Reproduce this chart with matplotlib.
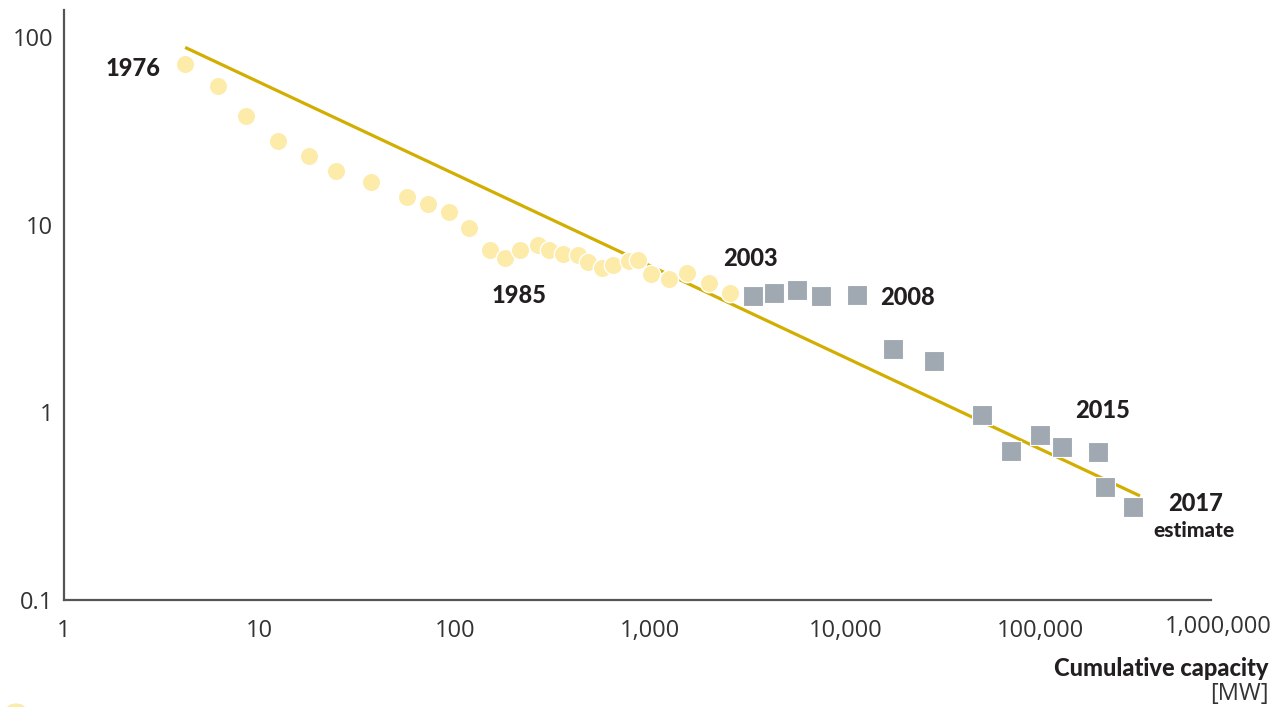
import numpy as np
import matplotlib
matplotlib.use('Agg')
import matplotlib.pyplot as plt
from matplotlib.ticker import FixedLocator, NullLocator

# Module price vs cumulative installed capacity (log-log)
circle_capacity = [4.17, 6.15, 8.55, 12.4, 18.0, 24.7, 37.3, 56.9, 73.1, 93.1,
                   119, 152, 181, 216, 266, 305, 358, 427, 484, 571,
                   649, 784, 872, 1013, 1257, 1554, 2007, 2571]
circle_price = [72.0, 55.2, 38.2, 28.1, 23.4, 19.3, 17.0, 14.1, 13.0, 11.7,
                9.59, 7.32, 6.65, 7.35, 7.80, 7.32, 7.03, 6.94, 6.35, 5.87,
                6.11, 6.42, 6.47, 5.45, 5.12, 5.56, 4.90, 4.31]

square_capacity = [3360, 4335, 5645, 7490, 11460, 17630, 28500, 50000,
                   70630, 99770, 129300, 196300, 213900, 296600]
square_price = [4.19, 4.35, 4.50, 4.18, 4.24, 2.17, 1.89, 0.975,
                0.621, 0.757, 0.658, 0.616, 0.399, 0.314]

trend_capacity = [4.17, 323000]
trend_price = [88.4, 0.359]

x_ticks = [1, 10, 100, 1000, 10000, 100000]
x_tick_labels = ['1', '10', '100', '1,000', '10,000', '100,000']
y_ticks = [0.1, 1, 10, 100]
y_tick_labels = ['0.1', '1', '10', '100']

year_labels = [('1976', 2.26, 67.9), ('1985', 214, 4.23), ('2003', 3255, 6.59),
               ('2008', 20720, 4.08), ('2015', 208900, 1.03), ('2017', 625300, 0.329)]

yellow = '#FDEBAA'
grey = '#A0A9B2'
gold = '#D2AE00'
ink = '#231F20'
tick_color = '#333333'

fig = plt.figure(figsize=(12.81, 7.07), dpi=100)
ax = fig.add_axes([0.05, 0.1513, 0.8954, 0.8346])

ax.set_xscale('log')
ax.set_yscale('log')
ax.set_xlim(1, 10 ** 5.873)
ax.set_ylim(0.1, 140)

ax.plot(trend_capacity, trend_price, color=gold, lw=2.3, zorder=2,
        solid_capstyle='butt')
ax.scatter(circle_capacity, circle_price, s=175, color=yellow,
           edgecolors='white', linewidths=1.0, zorder=3)
ax.scatter(square_capacity, square_price, s=210, marker='s', color=grey,
           edgecolors='white', linewidths=0.8, zorder=4)

for text, x, y in year_labels:
    ax.text(x, y, text, fontsize=17, fontweight='black', family='Lato',
            color=ink, ha='center', va='center')
ax.text(611000, 0.236, 'estimate', fontsize=15, fontweight='black',
        family='Lato', color=ink, ha='center', va='center')

# axes styling
for side in ['top', 'right']:
    ax.spines[side].set_visible(False)
for side in ['left', 'bottom']:
    ax.spines[side].set_color('#555555')
    ax.spines[side].set_linewidth(1.6)

ax.xaxis.set_major_locator(FixedLocator(x_ticks))
ax.xaxis.set_minor_locator(NullLocator())
ax.set_xticklabels(x_tick_labels)
ax.yaxis.set_major_locator(FixedLocator(y_ticks))
ax.yaxis.set_minor_locator(NullLocator())
ax.set_yticklabels(y_tick_labels)
ax.tick_params(length=0, labelsize=17, labelcolor=tick_color)
ax.tick_params(axis='x', pad=14)
ax.tick_params(axis='y', pad=8)
for lab in ax.get_xticklabels() + ax.get_yticklabels():
    lab.set_family('Open Sans')
    lab.set_fontweight('normal')

# last x label sits at the end of the axis
ax.text(1.006, -0.0465, '1,000,000', transform=ax.transAxes, fontsize=17,
        family='Open Sans', color=tick_color, ha='center', va='center')

fig.text(0.99, 0.055, 'Cumulative capacity', fontsize=17, fontweight='black',
         family='Lato', color=ink, ha='right', va='center')
fig.text(0.99, 0.018, '[MW]', fontsize=17, family='Open Sans',
         color=tick_color, ha='right', va='center')

# legend swatch at the foot of the figure
fig.patches.append(plt.Circle((0.0125, -0.003), 0.007, color=yellow,
                              transform=fig.transFigure, figure=fig))

fig.savefig('out.png', dpi=100)
